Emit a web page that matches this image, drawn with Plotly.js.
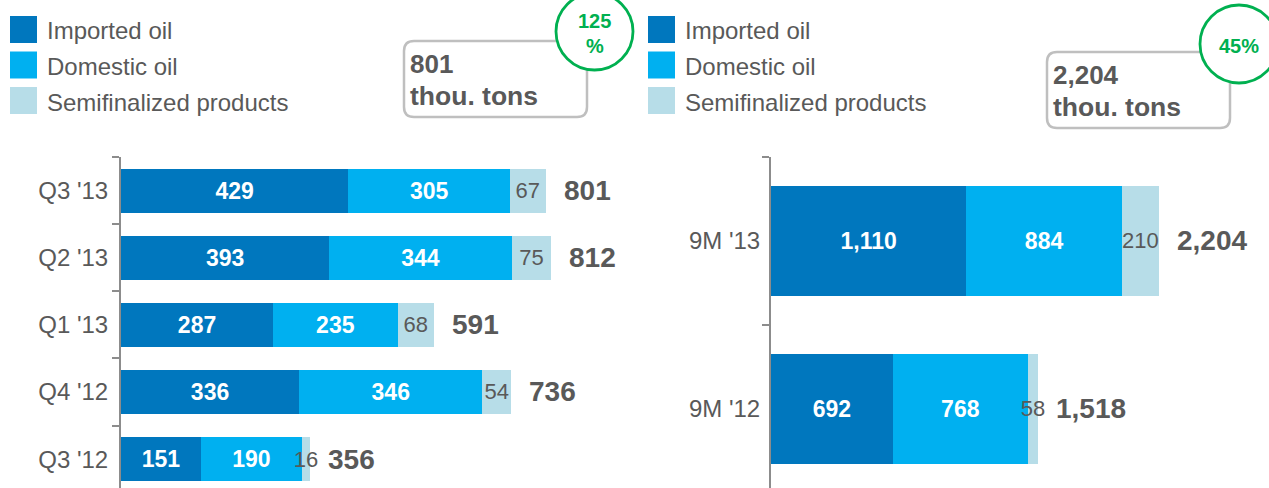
<!DOCTYPE html>
<html>
<head>
<meta charset="utf-8">
<script src="https://cdn.plot.ly/plotly-3.0.1.min.js"></script>
<style>
  html, body { margin: 0; padding: 0; background: #ffffff; }
  #chart { width: 1269px; height: 488px; }
</style>
</head>
<body>
<div id="chart"></div>
<script>
// ---------- data ----------
const seriesNames = ["Imported oil", "Domestic oil", "Semifinalized products"];

const qCategories = ["Q3 '13", "Q2 '13", "Q1 '13", "Q4 '12", "Q3 '12"];
const qImported   = [429, 393, 287, 336, 151];
const qDomestic   = [305, 344, 235, 346, 190];
const qSemi       = [67, 75, 68, 54, 16];
const qTotals     = [801, 812, 591, 736, 356];

const nmCategories = ["9M '13", "9M '12"];
const nmImported   = [1110, 692];
const nmDomestic   = [884, 768];
const nmSemi       = [210, 58];
const nmTotals     = [2204, 1518];

const leftCallout  = {value: "801", unit: "thou. tons", growth: ["125", "%"]};
const rightCallout = {value: "2,204", unit: "thou. tons", growth: ["45%"]};

// ---------- styling ----------
const W = 1269, H = 488;
const FONT = "Liberation Sans, Arial, Helvetica, sans-serif";
const GREY_TEXT = "#595959";
const colors = ["#0077BE", "#00B0F0", "#B7DDE8"];
const X = px => px / W;
const Y = py => 1 - py / H;

function barTrace(name, cats, vals, idx, xa, ya) {
  const semi = idx === 2;
  return {
    type: "bar", orientation: "h", name: name,
    y: cats, x: vals, xaxis: xa, yaxis: ya,
    marker: {color: colors[idx], line: {width: 0}},
    texttemplate: "%{x:,}",
    textposition: "inside",
    insidetextanchor: "middle",
    textangle: 0,
    constraintext: "none",
    insidetextfont: {family: FONT, size: semi ? 22 : 23, color: semi ? GREY_TEXT : "#ffffff", weight: semi ? "normal" : "bold"},
    hoverinfo: "skip",
    showlegend: false
  };
}

const data = [
  barTrace(seriesNames[0], qCategories, qImported, 0, "x", "y"),
  barTrace(seriesNames[1], qCategories, qDomestic, 1, "x", "y"),
  barTrace(seriesNames[2], qCategories, qSemi, 2, "x", "y"),
  barTrace(seriesNames[0], nmCategories, nmImported, 0, "x2", "y2"),
  barTrace(seriesNames[1], nmCategories, nmDomestic, 1, "x2", "y2"),
  barTrace(seriesNames[2], nmCategories, nmSemi, 2, "x2", "y2")
];

// totals at bar ends
const annotations = [];
qCategories.forEach((c, i) => annotations.push({
  xref: "x", yref: "y", x: qTotals[i], y: c, xanchor: "left", yanchor: "middle",
  xshift: 16, showarrow: false, text: qTotals[i].toLocaleString("en-US"),
  font: {family: FONT, size: 28, color: GREY_TEXT, weight: "bold"}
}));
nmCategories.forEach((c, i) => annotations.push({
  xref: "x2", yref: "y2", x: nmTotals[i], y: c, xanchor: "left", yanchor: "middle",
  xshift: 16, showarrow: false, text: nmTotals[i].toLocaleString("en-US"),
  font: {family: FONT, size: 28, color: GREY_TEXT, weight: "bold"}
}));

// legends (custom swatches)
const shapes = [];
const legendRows = [29.5, 65, 100.5];
[10, 648].forEach(lx => {
  seriesNames.forEach((n, i) => {
    const cy = legendRows[i];
    shapes.push({type: "rect", xref: "paper", yref: "paper",
      x0: X(lx), x1: X(lx + 27), y0: Y(cy - 13.5), y1: Y(cy + 13.5),
      fillcolor: colors[i], line: {width: 0}, layer: "above"});
    annotations.push({xref: "paper", yref: "paper", x: X(lx + 35), y: Y(cy + 1.5),
      xanchor: "left", yanchor: "middle", showarrow: false, text: n,
      font: {family: FONT, size: 24, color: GREY_TEXT}});
  });
});

// callout boxes
function roundRect(x0, y0, x1, y1, r) {
  const p = (x, y) => X(x) + "," + Y(y);
  return "M" + p(x0 + r, y0) + " L" + p(x1 - r, y0) + " Q" + p(x1, y0) + " " + p(x1, y0 + r) +
    " L" + p(x1, y1 - r) + " Q" + p(x1, y1) + " " + p(x1 - r, y1) +
    " L" + p(x0 + r, y1) + " Q" + p(x0, y1) + " " + p(x0, y1 - r) +
    " L" + p(x0, y0 + r) + " Q" + p(x0, y0) + " " + p(x0 + r, y0) + " Z";
}
function callout(box, circ, c) {
  shapes.push({type: "path", xref: "paper", yref: "paper", path: roundRect(box[0], box[1], box[2], box[3], 10),
    fillcolor: "#ffffff", line: {color: "#BFBFBF", width: 2.5}, layer: "above"});
  shapes.push({type: "circle", xref: "paper", yref: "paper",
    x0: X(circ[0] - circ[2]), x1: X(circ[0] + circ[2]), y0: Y(circ[1] + circ[2]), y1: Y(circ[1] - circ[2]),
    fillcolor: "#ffffff", line: {color: "#00B050", width: 2.8}, layer: "above"});
  annotations.push({xref: "paper", yref: "paper", x: X(box[0] + 4), y: Y(box[1] + 23),
    xanchor: "left", yanchor: "middle", showarrow: false, text: c.value,
    font: {family: FONT, size: 26, color: GREY_TEXT, weight: "bold"}});
  annotations.push({xref: "paper", yref: "paper", x: X(box[0] + 4), y: Y(box[1] + 55),
    xanchor: "left", yanchor: "middle", showarrow: false, text: c.unit,
    font: {family: FONT, size: 26.5, color: GREY_TEXT, weight: "bold"}});
  const n = c.growth.length;
  c.growth.forEach((g, i) => {
    const off = n === 1 ? 2 : (i === 0 ? -11 : 14);
    annotations.push({xref: "paper", yref: "paper", x: X(circ[0]), y: Y(circ[1] + off),
      xanchor: "center", yanchor: "middle", showarrow: false, text: g,
      font: {family: FONT, size: 20, color: "#00B050", weight: "bold"}});
  });
}
callout([404, 41, 587, 117], [594.5, 31.5, 38.5], leftCallout);
callout([1047, 52, 1230, 128], [1239, 44, 39], rightCallout);

const yTop = Y(157);
const axisCommon = {
  type: "category", showline: true, linecolor: "#8C8C8C", linewidth: 2,
  ticks: "outside", tickson: "boundaries", ticklen: 7, tickwidth: 2, tickcolor: "#8C8C8C",
  showgrid: false, zeroline: false, fixedrange: true,
  tickfont: {family: FONT, size: 24, color: GREY_TEXT}
};
const xHidden = {visible: false, showgrid: false, zeroline: false, fixedrange: true};

const layout = {
  width: W, height: H,
  margin: {l: 0, r: 0, t: 0, b: 0},
  paper_bgcolor: "#ffffff", plot_bgcolor: "rgba(0,0,0,0)",
  barmode: "stack", bargap: 0.345,
  showlegend: false,
  xaxis:  Object.assign({}, xHidden, {domain: [X(121), X(598)], range: [0, 900], anchor: "y"}),
  yaxis:  Object.assign({}, axisCommon, {domain: [0, yTop], range: [4.43, -0.5], anchor: "x",
            categoryorder: "array", categoryarray: qCategories, ticklabelstandoff: 6}),
  xaxis2: Object.assign({}, xHidden, {domain: [X(771), X(1211)], range: [0, 2500], anchor: "y2"}),
  yaxis2: Object.assign({}, axisCommon, {domain: [0, yTop], range: [1.473, -0.5], anchor: "x2",
            categoryorder: "array", categoryarray: nmCategories, ticklabelstandoff: 4}),
  annotations: annotations,
  shapes: shapes
};

Plotly.newPlot("chart", data, layout, {displayModeBar: false, staticPlot: true});
</script>
</body>
</html>
